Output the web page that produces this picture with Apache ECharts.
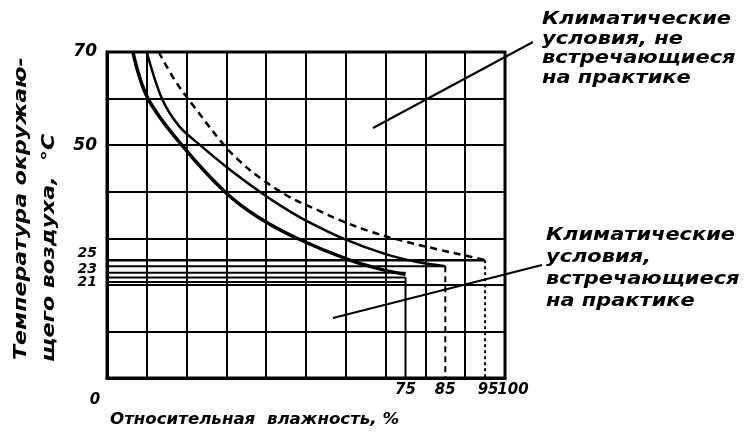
<!DOCTYPE html>
<html><head><meta charset="utf-8">
<script src="https://cdn.jsdelivr.net/npm/echarts@6/dist/echarts.min.js"></script>
<style>html,body{margin:0;padding:0;background:#fff}#c{width:751px;height:439px}</style>
</head><body><div id="c"></div>
<script>
// Tick labels (split in groups so that closely set labels are all kept)
const xTickValues = [0, 75, 85, 95];
const xTickValuesEnd = [100];
const yTickValues = [25, 50, 70];
const yTickValues23 = [23];
const yTickValues21 = [21];
// Boundary curves (relative humidity %, temperature °C)
const curveA_x = [6.5, 10.3, 18.8, 29.6, 38, 47.7, 61, 70.4, 75];
const curveA_y = [70, 60, 50, 40, 34.5, 30, 25.3, 23, 22.3];
const curveB_x = [10, 13.8, 18, 23.4, 30.5, 38.4, 44, 50, 60, 70, 78, 85];
const curveB_y = [70, 60, 54.2, 50, 45, 40, 36.8, 33.8, 29.7, 26.6, 24.9, 24];
const curveC_x = [13, 17, 21.4, 29.4, 33.4, 38.4, 46, 52.8, 58.5, 66, 73.6, 83.7, 90, 95];
const curveC_y = [70, 64, 58.8, 50, 46.5, 43, 38.8, 36.1, 33.9, 31.5, 29.6, 27.5, 26.3, 25.3];
// Horizontal limit lines: temperature and end humidity
const levelTemp = [25.3, 24.0, 22.6, 21.6, 20.6];
const levelEnd = [95, 85, 75, 75, 75];
// Vertical limit lines: humidity and top temperature
const limitHum = [95, 85, 75];
const limitTop = [25.3, 24.0, 21.6];
const limitType = ['dotted', 'dashed', 'solid'];

const FONT = 'DejaVu Sans';
const zip = (a, b) => a.map((v, i) => [v, b[i]]);

const series = [];
function addLine(data, width, type, z, smooth) {
  series.push({ type: 'line', data, symbol: 'none', silent: true, z: z || 3, smooth: smooth || false,
    xAxisIndex: 0, yAxisIndex: 0,
    lineStyle: { color: '#000', width, type: type || 'solid' }, animation: false });
}
addLine(zip(curveA_x, curveA_y), 3.5, 'solid', 5, 0.35);
addLine(zip(curveB_x, curveB_y), 2.5, 'solid', 5, 0.35);
addLine(zip(curveC_x, curveC_y), 2.5, [7, 5], 5, 0.35);
levelTemp.forEach((t, i) => addLine([[0, t], [levelEnd[i], t]], i === 0 ? 2.5 : 2));
limitHum.forEach((h, i) => addLine([[h, limitTop[i]], [h, 0]], 2,
  limitType[i] === 'dotted' ? [3, 3] : limitType[i] === 'dashed' ? [6, 4] : 'solid'));

const lblStyle = { fontFamily: FONT, fontStyle: 'italic', fontWeight: 'bold', fontSize: 15, color: '#000' };
const txt = { fontFamily: FONT, fontStyle: 'italic', fontWeight: 'bold', fill: '#000' };

function labelAxis(values, extra) {
  return Object.assign({
    type: 'value', min: 0, interval: 10,
    axisLine: { show: false }, axisTick: { show: false }, splitLine: { show: false }
  }, extra, { axisLabel: Object.assign({ customValues: values, hideOverlap: false, showMinLabel: true, showMaxLabel: true }, lblStyle, extra.axisLabel) });
}

const chart = echarts.init(document.getElementById('c'), null, { renderer: 'canvas' });
chart.setOption({
  animation: false,
  backgroundColor: '#fff',
  grid: { left: 107, right: 246, top: 52, bottom: 61, show: true, borderColor: '#000', borderWidth: 3, backgroundColor: 'transparent' },
  xAxis: [
    {
      type: 'value', min: 0, max: 100, interval: 10,
      axisLine: { show: true, lineStyle: { color: '#000', width: 3 } },
      axisTick: { show: false },
      splitLine: { show: true, lineStyle: { color: '#000', width: 2 } },
      axisLabel: {
        customValues: xTickValues, margin: 5, hideOverlap: false, ...lblStyle,
        formatter: v => v === 0 ? '{z|0}' : v === 95 ? '{n|95}' : '{d|' + v + '}',
        rich: {
          z: { ...lblStyle, padding: [10, 24, 0, 0] },
          n: { ...lblStyle, padding: [0, 0, 0, 6] },
          d: { ...lblStyle }
        }
      }
    },
    labelAxis(xTickValuesEnd, { max: 100, position: 'bottom', axisLabel: { margin: 5,
      formatter: v => '{h|' + v + '}', rich: { h: { ...lblStyle, padding: [0, 0, 0, 16] } } } })
  ],
  yAxis: [
    {
      type: 'value', min: 0, max: 70, interval: 10,
      axisLine: { show: true, lineStyle: { color: '#000', width: 3 } },
      axisTick: { show: false },
      splitLine: { show: true, lineStyle: { color: '#000', width: 2 } },
      axisLabel: {
        customValues: yTickValues, margin: 10, hideOverlap: false, ...lblStyle,
        formatter: v => v === 25 ? '{u|25}' : '{b|' + v + '}',
        rich: {
          u: { ...lblStyle, fontSize: 14, padding: [0, 0, 16, 0] },
          b: { ...lblStyle, fontSize: 17 }
        }
      }
    },
    labelAxis(yTickValues23, { max: 70, position: 'left', axisLabel: { margin: 10,
      formatter: v => '{m|' + v + '}', rich: { m: { ...lblStyle, fontSize: 14, padding: [0, 0, 4, 0] } } } }),
    labelAxis(yTickValues21, { max: 70, position: 'left', axisLabel: { margin: 10,
      formatter: v => '{l|' + v + '}', rich: { l: { ...lblStyle, fontSize: 14, padding: [4, 0, 0, 0] } } } })
  ],
  graphic: [
    { type: 'text', x: 22, y: 360, rotation: Math.PI / 2, scaleX: 1.3,
      style: { ...txt, text: 'Температура окружаю-', fontSize: 17, align: 'left', verticalAlign: 'middle' } },
    { type: 'text', x: 50, y: 362, rotation: Math.PI / 2, scaleX: 1.3,
      style: { ...txt, text: 'щего воздуха,  °С', fontSize: 17, align: 'left', verticalAlign: 'middle' } },
    { type: 'text', x: 110, y: 420, scaleX: 1.04,
      style: { ...txt, text: 'Относительная  влажность, %', fontSize: 16, align: 'left', verticalAlign: 'middle' } },
    { type: 'text', x: 542, y: 10, scaleX: 1.23,
      style: { ...txt, text: 'Климатические\nусловия, не\nвстречающиеся\nна практике', fontSize: 17, lineHeight: 19.5, align: 'left', verticalAlign: 'top' } },
    { type: 'text', x: 546, y: 225, scaleX: 1.23,
      style: { ...txt, text: 'Климатические\nусловия,\nвстречающиеся\nна практике', fontSize: 17, lineHeight: 22, align: 'left', verticalAlign: 'top' } },
    { type: 'line', shape: { x1: 373, y1: 128, x2: 533, y2: 42 }, style: { stroke: '#000', lineWidth: 2 } },
    { type: 'line', shape: { x1: 333, y1: 318, x2: 542, y2: 265 }, style: { stroke: '#000', lineWidth: 2 } }
  ],
  series
});
</script></body></html>
